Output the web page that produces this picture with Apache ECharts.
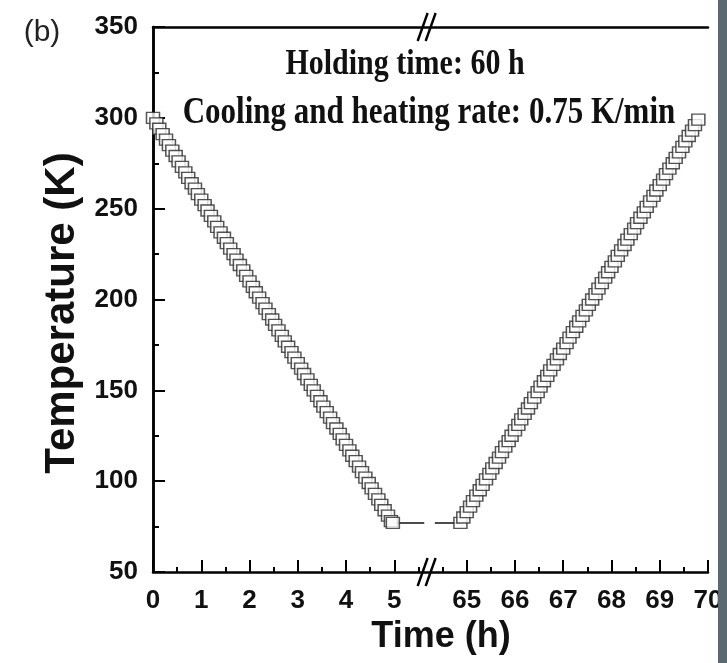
<!DOCTYPE html>
<html>
<head>
<meta charset="utf-8">
<script src="https://cdn.jsdelivr.net/npm/echarts@6/dist/echarts.min.js"></script>
<style>html,body{margin:0;padding:0;background:#fff;}#c{width:727px;height:663px;}</style>
</head>
<body>
<div id="c"></div>
<script>
// ---- data ----
const coolTime = [0, 0.07, 0.13, 0.2, 0.27, 0.33, 0.4, 0.47, 0.53, 0.6, 0.67, 0.73, 0.8, 0.87, 0.93, 1.0, 1.07, 1.13, 1.2, 1.27, 1.33, 1.4, 1.47, 1.53, 1.6, 1.67, 1.73, 1.8, 1.87, 1.93, 2.0, 2.07, 2.13, 2.2, 2.27, 2.33, 2.4, 2.47, 2.53, 2.6, 2.67, 2.73, 2.8, 2.87, 2.93, 3.0, 3.07, 3.13, 3.2, 3.27, 3.33, 3.4, 3.47, 3.53, 3.6, 3.67, 3.73, 3.8, 3.87, 3.93, 4.0, 4.07, 4.13, 4.2, 4.27, 4.33, 4.4, 4.47, 4.53, 4.6, 4.67, 4.73, 4.8, 4.87, 4.93, 4.97];
const coolTemp = [300, 297, 294, 291, 288, 285, 282, 279, 276, 273, 270, 267, 264, 261, 258, 255, 252, 249, 246, 243, 240, 237, 234, 231, 228, 225, 222, 219, 216, 213, 210, 207, 204, 201, 198, 195, 192, 189, 186, 183, 180, 177, 174, 171, 168, 165, 162, 159, 156, 153, 150, 147, 144, 141, 138, 135, 132, 129, 126, 123, 120, 117, 114, 111, 108, 105, 102, 99, 96, 93, 90, 87, 84, 81, 78, 77];
const heatTime = [64.87, 64.93, 65.0, 65.07, 65.13, 65.2, 65.27, 65.33, 65.4, 65.47, 65.53, 65.6, 65.67, 65.73, 65.8, 65.87, 65.93, 66.0, 66.07, 66.13, 66.2, 66.27, 66.33, 66.4, 66.47, 66.53, 66.6, 66.67, 66.73, 66.8, 66.87, 66.93, 67.0, 67.07, 67.13, 67.2, 67.27, 67.33, 67.4, 67.47, 67.53, 67.6, 67.67, 67.73, 67.8, 67.87, 67.93, 68.0, 68.07, 68.13, 68.2, 68.27, 68.33, 68.4, 68.47, 68.53, 68.6, 68.67, 68.73, 68.8, 68.87, 68.93, 69.0, 69.07, 69.13, 69.2, 69.27, 69.33, 69.4, 69.47, 69.53, 69.6, 69.67, 69.73, 69.8];
const heatTemp = [77, 80, 83, 86, 89, 92, 95, 98, 101, 104, 107, 110, 113, 116, 119, 122, 125, 128, 131, 134, 137, 140, 143, 146, 149, 152, 155, 158, 161, 164, 167, 170, 173, 176, 179, 182, 185, 188, 191, 194, 197, 200, 203, 206, 209, 212, 215, 218, 221, 224, 227, 230, 233, 236, 239, 242, 245, 248, 251, 254, 257, 260, 263, 266, 269, 272, 275, 278, 281, 284, 287, 290, 293, 296, 299];
const holdTimeA = [4.97, 5.62];
const holdTimeB = [64.34, 64.87];
const holdTemp = 77;
const xTickLabels = [0, 1, 2, 3, 4, 5, 65, 66, 67, 68, 69, 70];
const xMinorLabels = [0.5, 1.5, 2.5, 3.5, 4.5, 5.5, 64.5, 65.5, 66.5, 67.5, 68.5, 69.5];
const breakAt = 5.67;

// broken axis: 0..5 then 65..70 placed 1.5 units after 5
function tx(t) { return t <= 5.75 ? t : t - 58.5; }
function inv(v) { return v <= 5.75 ? v : Math.round((v + 58.5) * 10) / 10; }

const coolData = coolTime.map((t, i) => [tx(t), coolTemp[i]]);
const heatData = heatTime.map((t, i) => [tx(t), heatTemp[i]]);
const holdA = holdTimeA.map(t => [tx(t), holdTemp]);
const holdB = holdTimeB.map(t => [tx(t), holdTemp]);

const chart = echarts.init(document.getElementById('c'), null, {renderer: 'canvas'});
const lbl = {fontFamily: 'Liberation Sans, Arial', fontWeight: 'bold', fontSize: 26, color: '#111'};
const markerStyle = {color: '#fff', borderColor: '#2a2a2a', borderWidth: 1.4};

chart.setOption({
  animation: false,
  backgroundColor: '#fff',
  grid: {left: 153, right: 19, top: 27, bottom: 91},
  xAxis: [
    {
      type: 'value', min: 0, max: 11.5, position: 'bottom',
      axisLine: {show: true, lineStyle: {color: '#000', width: 2.5}},
      axisTick: {show: true, inside: true, length: 12, lineStyle: {color: '#000', width: 2},
        customValues: xTickLabels.map(tx)},
      axisLabel: {show: true, margin: 16, ...lbl, customValues: xTickLabels.map(tx),
        formatter: v => String(inv(v))},
      splitLine: {show: false}
    },
    {
      type: 'value', min: 0, max: 11.5, position: 'bottom',
      axisLine: {show: false},
      axisTick: {show: true, inside: true, length: 5, lineStyle: {color: '#000', width: 2},
        customValues: xMinorLabels.map(tx)},
      axisLabel: {show: false},
      splitLine: {show: false}
    },
    {
      type: 'value', min: 0, max: 11.5, position: 'top',
      axisLine: {show: true, lineStyle: {color: '#000', width: 2.5}},
      axisTick: {show: false}, axisLabel: {show: false}, splitLine: {show: false}
    }
  ],
  yAxis: [
    {
      type: 'value', min: 50, max: 350, interval: 50, position: 'left',
      axisLine: {show: true, lineStyle: {color: '#000', width: 2.5}},
      axisTick: {show: true, inside: true, length: 12, lineStyle: {color: '#000', width: 2}},
      minorTick: {show: true, splitNumber: 2, length: 6, lineStyle: {color: '#000', width: 2}},
      axisLabel: {margin: 15, ...lbl},
      splitLine: {show: false}
    },
    {
      type: 'value', min: 50, max: 350, position: 'right',
      axisLine: {show: true, lineStyle: {color: '#000', width: 2.5}},
      axisTick: {show: false}, axisLabel: {show: false}, splitLine: {show: false}
    }
  ],
  series: [
    {type: 'line', data: holdA, symbol: 'none', lineStyle: {color: '#111', width: 1.6}, z: 3},
    {type: 'line', data: holdB, symbol: 'none', lineStyle: {color: '#111', width: 1.6}, z: 3},
    {type: 'scatter', data: coolData, symbol: 'rect', symbolSize: [13, 11], itemStyle: markerStyle, z: 4},
    {type: 'scatter', data: heatData, symbol: 'rect', symbolSize: [13, 11], itemStyle: markerStyle, z: 4},
    {
      type: 'custom', clip: false, z: 10,
      data: [[breakAt, 350], [breakAt, 50]],
      renderItem: function (params, api) {
        const p = api.coord([api.value(0), api.value(1)]);
        const mk = (dx) => ({
          type: 'line',
          shape: {x1: p[0] + dx - 5, y1: p[1] + 14, x2: p[0] + dx + 5, y2: p[1] - 14},
          style: {stroke: '#000', lineWidth: 2.4}
        });
        return {type: 'group', children: [mk(-4), mk(4)]};
      }
    }
  ],
  graphic: [
    {type: 'rect', shape: {x: 718, y: 0, width: 9, height: 663}, style: {fill: '#5a6870'}, z: 100},
    {type: 'text', x: 42, y: 33, style: {text: '(b)', font: '30px "Liberation Sans", Arial', fill: '#222', align: 'center', verticalAlign: 'middle', textAlign: 'center', textVerticalAlign: 'middle'}},
    {type: 'text', x: 405, y: 65, scaleY: 1.2, style: {text: 'Holding time: 60 h', font: 'bold 30px "Liberation Serif", "Times New Roman", serif', fill: '#111', align: 'center', verticalAlign: 'middle', textAlign: 'center', textVerticalAlign: 'middle'}},
    {type: 'text', x: 429, y: 113, scaleY: 1.2, style: {text: 'Cooling and heating rate: 0.75 K/min', font: 'bold 31px "Liberation Serif", "Times New Roman", serif', fill: '#111', align: 'center', verticalAlign: 'middle', textAlign: 'center', textVerticalAlign: 'middle'}},
    {type: 'text', x: 62, y: 313, rotation: Math.PI / 2, style: {text: 'Temperature (K)', font: 'bold 42px "Liberation Sans", Arial', fill: '#111', align: 'center', verticalAlign: 'middle', textAlign: 'center', textVerticalAlign: 'middle'}},
    {type: 'text', x: 441, y: 637, style: {text: 'Time (h)', font: 'bold 36px "Liberation Sans", Arial', fill: '#111', align: 'center', verticalAlign: 'middle', textAlign: 'center', textVerticalAlign: 'middle'}}
  ]
});
</script>
</body>
</html>
